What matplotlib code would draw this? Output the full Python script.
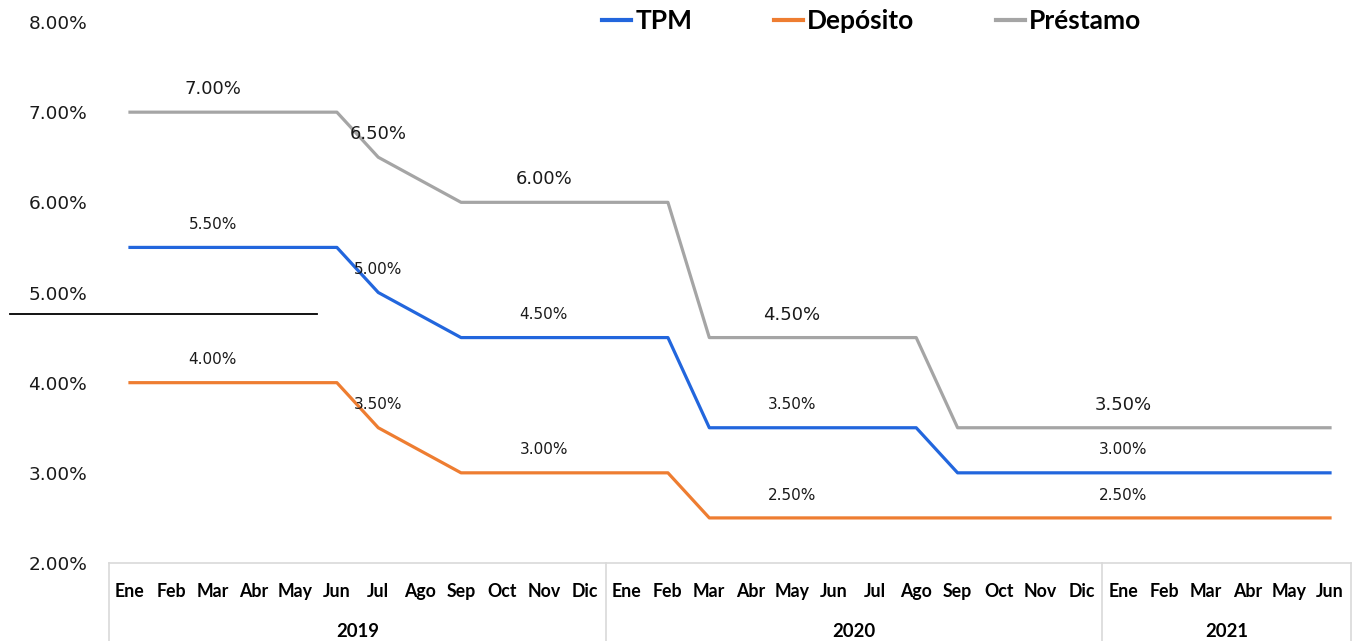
import matplotlib
matplotlib.use("Agg")
import matplotlib.pyplot as plt
from matplotlib.lines import Line2D
import matplotlib.transforms as mtransforms

# monthly rates, Ene 2019 .. Jun 2021
months = ["Ene", "Feb", "Mar", "Abr", "May", "Jun", "Jul", "Ago", "Sep", "Oct", "Nov", "Dic",
          "Ene", "Feb", "Mar", "Abr", "May", "Jun", "Jul", "Ago", "Sep", "Oct", "Nov", "Dic",
          "Ene", "Feb", "Mar", "Abr", "May", "Jun"]
years = ["2019", "2020", "2021"]
year_sizes = [12, 12, 6]

tpm = [5.5] * 6 + [5.0, 4.75] + [4.5] * 6 + [3.5] * 6 + [3.0] * 10
deposito = [4.0] * 6 + [3.5, 3.25] + [3.0] * 6 + [2.5] * 16
prestamo = [7.0] * 6 + [6.5, 6.25] + [6.0] * 6 + [4.5] * 6 + [3.5] * 10

# which months get a data label
tpm_lbl = [2, 6, 10, 16, 24]
dep_lbl = [2, 6, 10, 16, 24]
pre_lbl = [2, 6, 10, 16, 24]

blue = "#2266dd"
orange = "#ee7d31"
grey = "#a5a5a5"

W, H = 1354, 641
fig = plt.figure(figsize=(W / 100, H / 100), dpi=100)
ax = fig.add_axes([109.3 / W, 1 - 563 / H, (1350.7 - 109.3) / W, (563 - 22) / H])

x = list(range(len(months)))
ax.plot(x, tpm, color=blue, lw=2.3, label="TPM", solid_joinstyle="round")
ax.plot(x, deposito, color=orange, lw=2.3, label="Depósito", solid_joinstyle="round")
ax.plot(x, prestamo, color=grey, lw=2.3, label="Préstamo", solid_joinstyle="round")

def labels(vals, idx, size):
    for i in idx:
        ax.annotate(f"{vals[i]:.2f}%", (i, vals[i]), xytext=(0, 16.5), textcoords="offset points",
                    ha="center", va="center", fontsize=size, color="#1a1a1a")

labels(tpm, tpm_lbl, 11)
labels(deposito, dep_lbl, 11)
labels(prestamo, pre_lbl, 13)

ax.set_xlim(-0.5, len(months) - 0.5)
ax.set_ylim(2, 8)
ax.set_yticks([2, 3, 4, 5, 6, 7, 8])
ax.set_yticklabels([f"{v:.2f}%" for v in [2, 3, 4, 5, 6, 7, 8]], fontsize=13.3, color="#1a1a1a")
ax.tick_params(axis="y", length=0, pad=16)
ax.set_xticks([])
for s in ["left", "right", "top"]:
    ax.spines[s].set_visible(False)
ax.spines["bottom"].set_color("#d9d9d9")
ax.spines["bottom"].set_linewidth(1.2)

# month / year category axis
trans = mtransforms.blended_transform_factory(ax.transData, ax.transAxes)
for i, m in enumerate(months):
    ax.text(i, -0.052, m, transform=trans, ha="center", va="center",
            fontsize=12.8, fontweight="bold", family="Lato", color="#000000")
start = 0
bounds = [-0.5]
for yr, n in zip(years, year_sizes):
    ax.text(start + (n - 1) / 2, -0.126, yr, transform=trans, ha="center", va="center",
            fontsize=13.3, fontweight="bold", family="Lato", color="#000000")
    start += n
    bounds.append(start - 0.5)
for b in bounds:
    ax.plot([b, b], [0, -0.2], transform=trans, color="#d9d9d9", lw=1.2, clip_on=False)

# stray line present in the source picture
fig.add_artist(Line2D([10 / W, 317 / W], [1 - 314 / H, 1 - 314 / H], color="black", lw=1.3))

leg = fig.legend(loc="center", bbox_to_anchor=(872 / W, 1 - 21 / H), ncol=3, frameon=False,
                 prop={"family": "Lato", "weight": "bold", "size": 19},
                 handlelength=1.1, handletextpad=0.15, columnspacing=3.1)
for line in leg.get_lines():
    line.set_linewidth(3)

fig.savefig("out.png", dpi=100)
